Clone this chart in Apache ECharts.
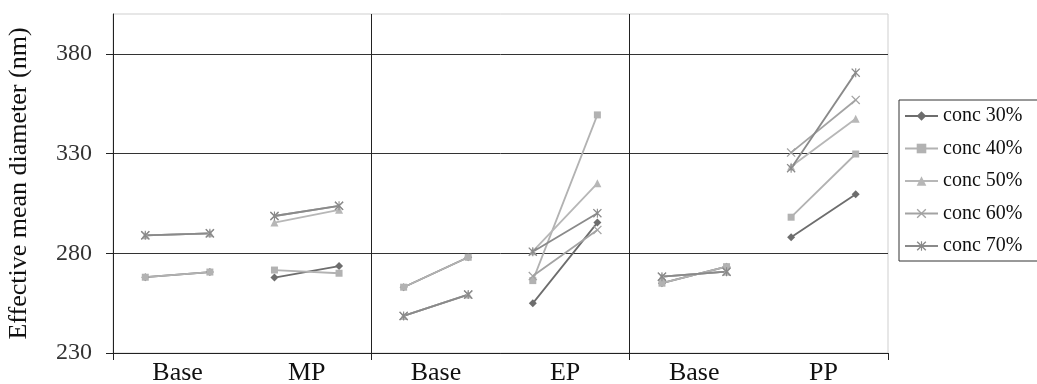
<!DOCTYPE html>
<html>
<head>
<meta charset="utf-8">
<script src="https://cdn.jsdelivr.net/npm/echarts@6/dist/echarts.min.js"></script>
<style>
  html, body { margin: 0; padding: 0; background: #fff; }
  #chart { width: 1037px; height: 384px; }
</style>
</head>
<body>
<div id="chart"></div>
<script>
// Treatment groups; each group holds a before/after pair of measurements
const groupLabels = ['Base', 'MP', 'Base', 'EP', 'Base', 'PP'];
const yTicks = [230, 280, 330, 380];
const seriesNames = ['conc 30%', 'conc 40%', 'conc 50%', 'conc 60%', 'conc 70%'];

// Effective mean diameter (nm), two readings per group, in group order
const conc30 = [268.0, 270.6, 267.8, 273.6, 263.0, 278.0, 254.9, 295.4, 265.0, 273.3, 288.0, 309.6];
const conc40 = [268.0, 270.6, 271.6, 270.0, 263.0, 278.0, 266.3, 349.4, 265.0, 273.3, 298.1, 329.8];
const conc50 = [289.0, 290.0, 295.4, 301.8, 248.6, 259.3, 281.0, 315.1, 268.3, 270.8, 323.5, 347.5];
const conc60 = [289.0, 290.0, 298.7, 303.8, 248.6, 259.3, 268.6, 291.7, 268.3, 270.8, 330.5, 356.9];
const conc70 = [289.0, 290.0, 298.7, 303.8, 248.6, 259.3, 280.8, 300.1, 268.3, 270.8, 322.7, 370.6];

const seriesValues = [conc30, conc40, conc50, conc60, conc70];

const colors = ['#6d6d6d', '#b2b2b2', '#b7b7b7', '#a3a3a3', '#8a8a8a'];
const crossPath = 'path://M1,0L5,4L9,0L10,1L6,5L10,9L9,10L5,6L1,10L0,9L4,5L0,1Z';
const starPath = 'path://M1,0L5,4L9,0L10,1L6,5L10,9L9,10L5,6L1,10L0,9L4,5L0,1Z M4.4,0L5.6,0L5.6,10L4.4,10Z';
const symbols = ['diamond', 'rect', 'triangle', crossPath, starPath];
const symbolSizes = [8, 7, 8, 9, 9];

// Each pair of readings is joined; pairs are kept apart by a gap
function pairedPoints(values) {
  const out = [];
  values.forEach((v, i) => {
    out.push([i + 0.5, v]);
    if (i % 2 === 1 && i < values.length - 1) out.push([i + 1, '-']);
  });
  return out;
}

const font = 'Liberation Serif';
const chart = echarts.init(document.getElementById('chart'), null, { renderer: 'canvas' });

chart.setOption({
  animation: false,
  backgroundColor: '#ffffff',
  grid: {
    left: 113, right: 149, top: 14, bottom: 31,
    outerBoundsMode: 'none',
    show: true, borderColor: '#cfcfcf', borderWidth: 1
  },
  legend: {
    orient: 'vertical',
    left: 899, top: 100,
    padding: [6, 4, 5, 5],
    itemGap: 12.5,
    itemWidth: 33, itemHeight: 12,
    borderColor: '#333', borderWidth: 1,
    textStyle: { fontFamily: font, fontSize: 20, color: '#111', lineHeight: 20, width: 92 },
    data: seriesNames
  },
  xAxis: {
    type: 'value',
    min: 0, max: 12,
    axisLine: { show: true, lineStyle: { color: '#222', width: 1 } },
    axisTick: { show: true, inside: false, length: 7, customValues: [0, 4, 8, 12], lineStyle: { color: '#222' } },
    axisLabel: {
      customValues: [1, 3, 5, 7, 9, 11],
      formatter: v => groupLabels[Math.round((v - 1) / 2)] || '',
      fontFamily: font, fontSize: 26, color: '#111', margin: 7
    },
    splitLine: { show: true, showMinLine: false, showMaxLine: false, lineStyle: { color: '#222', width: 1 } }
  },
  yAxis: {
    type: 'value',
    min: 230, max: 400,
    name: 'Effective mean diameter (nm)',
    nameLocation: 'middle',
    nameGap: 81,
    nameTextStyle: { fontFamily: font, fontSize: 26, color: '#111' },
    axisLine: { show: true, lineStyle: { color: '#222', width: 1 } },
    axisTick: { show: true, length: 7, customValues: yTicks, lineStyle: { color: '#222' } },
    axisLabel: { customValues: yTicks, fontFamily: font, fontSize: 24, color: '#333', margin: 21 },
    splitLine: { show: true, lineStyle: { color: '#333', width: 1 } }
  },
  series: seriesNames.map((name, k) => ({
    name,
    type: 'line',
    data: pairedPoints(seriesValues[k]),
    connectNulls: false,
    symbol: symbols[k],
    symbolSize: symbolSizes[k],
    showAllSymbol: true,
    lineStyle: { color: colors[k], width: 1.8 },
    itemStyle: { color: colors[k], borderWidth: 0 },
    emphasis: { disabled: true }
  }))
});
</script>
</body>
</html>
